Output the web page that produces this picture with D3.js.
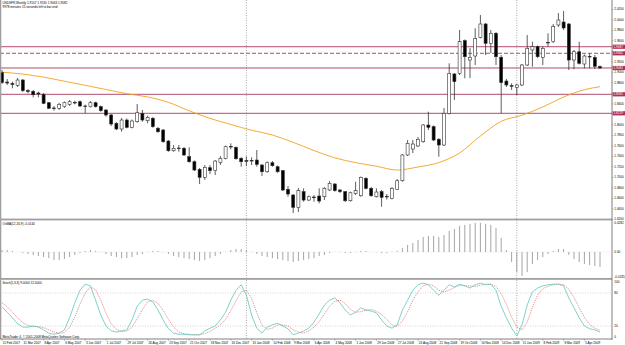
<!DOCTYPE html>
<html>
<head>
<meta charset="utf-8">
<script src="https://cdn.jsdelivr.net/npm/d3@7"></script>
<style>
body{margin:0;background:#fff}
svg{display:block}
text{font-family:"Liberation Sans",Arial,sans-serif}
</style>
</head>
<body>
<svg id="chart" width="625" height="345"></svg>
<script>
// weekly candles, first bar = 11 Feb 2007
var opens = [1.8993,1.8815,1.8786,1.8752,1.8853,1.8653,1.8638,1.8606,1.8581,1.8421,
1.8320,1.8314,1.8345,1.8390,1.8428,1.8440,1.8358,1.8345,1.8421,1.8345,
1.8282,1.8187,1.8028,1.7920,1.8091,1.7952,1.8059,1.8219,1.8078,1.8124,
1.7933,1.7901,1.7691,1.7506,1.7558,1.7552,1.7393,1.7297,1.7152,1.7000,
1.7183,1.7126,1.7285,1.7361,1.7590,1.7571,1.7361,1.7320,1.7324,1.7329,
1.7234,1.7106,1.7278,1.7202,1.7126,1.6771,1.6663,1.6428,1.6726,1.6567,
1.6625,1.6644,1.6630,1.6758,1.6872,1.6758,1.6726,1.6554,1.6695,1.6649,
1.6981,1.6790,1.6630,1.6726,1.6638,1.6600,1.6771,1.6935,1.7425,1.7539,
1.7596,1.7678,1.7996,1.7964,1.7724,1.7615,1.8219,1.8968,1.8981,1.9602,
1.9234,1.9310,1.9666,1.9920,1.9552,1.9743,1.9286,1.8834,1.8745,1.8714,
1.8758,1.9139,1.9425,1.9488,1.9286,1.9571,1.9583,1.9901,1.9958,1.9920,
1.9234,1.9392,1.9158,1.9305,1.9282,1.9107];
var highs = [1.9044,1.8872,1.8821,1.8891,1.8872,1.8676,1.8663,1.8630,1.8606,1.8434,
1.8358,1.8421,1.8443,1.8472,1.8459,1.8463,1.8386,1.8453,1.8440,1.8367,
1.8295,1.8206,1.8053,1.8129,1.8120,1.8101,1.8396,1.8282,1.8173,1.8148,
1.7958,1.7920,1.7710,1.7615,1.7615,1.7577,1.7571,1.7320,1.7177,1.7234,
1.7234,1.7329,1.7405,1.7602,1.7647,1.7586,1.7386,1.7396,1.7381,1.7520,
1.7253,1.7301,1.7310,1.7225,1.7139,1.6834,1.6682,1.6796,1.6790,1.6653,
1.6663,1.6790,1.6815,1.6929,1.6891,1.6777,1.6739,1.6729,1.6916,1.7015,
1.7000,1.6815,1.6790,1.6758,1.6682,1.6815,1.6967,1.7444,1.7710,1.7710,
1.7767,1.8015,1.8249,1.7987,1.7748,1.8320,1.9171,1.8987,1.9806,1.9625,
1.9463,1.9838,2.0091,1.9939,1.9806,1.9767,1.9329,1.8872,1.8790,1.8777,
1.9158,1.9710,1.9583,1.9510,1.9491,1.9743,1.9920,2.0129,2.0167,1.9939,
1.9425,1.9583,1.9339,1.9362,1.9329,1.9130];
var lows = [1.8777,1.8758,1.8695,1.8720,1.8625,1.8600,1.8524,1.8524,1.8396,1.8301,
1.8269,1.8282,1.8320,1.8358,1.8390,1.8339,1.8219,1.8329,1.8329,1.8250,
1.8154,1.7977,1.7901,1.7868,1.7933,1.7933,1.8040,1.8059,1.8028,1.7945,
1.7849,1.7659,1.7487,1.7487,1.7487,1.7406,1.7278,1.7120,1.6872,1.6948,
1.7063,1.7044,1.7234,1.7342,1.7533,1.7335,1.7202,1.7215,1.7234,1.7202,
1.7025,1.7087,1.7202,1.7087,1.6739,1.6630,1.6320,1.6339,1.6535,1.6548,
1.6535,1.6505,1.6567,1.6739,1.6726,1.6701,1.6529,1.6535,1.6663,1.6630,
1.6771,1.6630,1.6615,1.6440,1.6577,1.6581,1.6758,1.6916,1.7406,1.7463,
1.7577,1.7659,1.7901,1.7691,1.7393,1.7596,1.8200,1.8472,1.8948,1.8886,
1.8891,1.9139,1.9647,1.9329,1.9367,1.9139,1.8219,1.8720,1.8663,1.8567,
1.8739,1.9120,1.9107,1.9272,1.9139,1.9488,1.9558,1.9863,1.9806,1.9044,
1.9057,1.9148,1.9076,1.9076,1.9063,1.9063];
var closes = [1.8802,1.8796,1.8767,1.8853,1.8650,1.8634,1.8573,1.8587,1.8409,1.8314,
1.8307,1.8390,1.8421,1.8440,1.8415,1.8358,1.8349,1.8421,1.8345,1.8269,
1.8187,1.8015,1.7920,1.8091,1.7952,1.8072,1.8230,1.8091,1.8143,1.7964,
1.7868,1.7678,1.7506,1.7552,1.7545,1.7425,1.7297,1.7139,1.7000,1.7190,
1.7126,1.7310,1.7361,1.7583,1.7577,1.7354,1.7297,1.7305,1.7310,1.7247,
1.7106,1.7278,1.7221,1.7106,1.6758,1.6682,1.6428,1.6745,1.6567,1.6630,
1.6611,1.6548,1.6790,1.6886,1.6745,1.6726,1.6554,1.6706,1.6745,1.7000,
1.6790,1.6649,1.6720,1.6619,1.6625,1.6790,1.6935,1.7425,1.7647,1.7634,
1.7724,1.7996,1.7952,1.7710,1.7615,1.8219,1.8981,1.8821,1.9583,1.9297,
1.9286,1.9647,1.9920,1.9552,1.9743,1.9297,1.8802,1.8758,1.8733,1.8758,
1.9139,1.9457,1.9488,1.9297,1.9457,1.9558,1.9869,1.9996,1.9844,1.9234,
1.9392,1.9171,1.9310,1.9291,1.9114,1.9082];

// moving average, read every 4th bar
var maBars = [0,4,8,12,16,20,24,28,32,36,40,44,48,52,56,60,64,68,72,76,80,84,88,92,96,100,104,108,112,115];
var maVals = [1.9002,1.8966,1.8908,1.8830,1.8752,1.8672,1.8592,1.8531,1.8428,1.8266,
1.8122,1.8007,1.7897,1.7806,1.7666,1.7510,1.7371,1.7280,1.7211,1.7139,
1.7196,1.7280,1.7463,1.7786,1.8066,1.8183,1.8339,1.8529,1.8668,1.8726];

// horizontal lines drawn on the chart
var hLevels = [1.9487,1.9362,1.9082,1.8581,1.8219];
var hDashed = [false,true,false,false,false];

var osma = [0.0019,0.0019,0.0010,0,-0.0010,-0.0019,-0.0029,-0.0038,-0.0048,-0.0058,-0.0077,-0.0077,-0.0067,-0.0048,-0.0029,-0.0010,
0.0010,0.0019,0.0010,0.0002,-0.0019,-0.0038,-0.0048,-0.0058,-0.0058,-0.0048,-0.0029,-0.0019,0.0002,0.0010,0.0010,-0.0002,
-0.0019,-0.0038,-0.0048,-0.0058,-0.0067,-0.0077,-0.0086,-0.0077,-0.0058,-0.0038,-0.0019,0.0002,0.0019,0.0029,0.0029,0.0019,
-0.0002,-0.0019,-0.0038,-0.0048,-0.0058,-0.0067,-0.0077,-0.0086,-0.0096,-0.0086,-0.0077,-0.0067,-0.0058,-0.0038,-0.0029,-0.0010,
0.0002,-0.0002,-0.0010,-0.0010,0.0002,0.0010,0.0010,0.0002,-0.0002,-0.0010,-0.0010,0.0002,0.0010,0.0038,0.0067,0.0086,
0.0115,0.0144,0.0154,0.0154,0.0144,0.0163,0.0202,0.0221,0.0250,0.0259,0.0269,0.0278,0.0278,0.0269,0.0259,0.0230,
0.0134,0.0019,-0.0096,-0.0192,-0.0230,-0.0192,-0.0115,-0.0077,-0.0048,-0.0019,0.0010,0.0029,0.0029,-0.0029,-0.0067,-0.0096,
-0.0115,-0.0125,-0.0134,-0.0144];

var stochK = [55,45,35,24,18,18,20,18,13,7,5,7,13,35,62,85,96,93,67,40,
20,11,9,11,13,31,56,67,69,64,49,31,15,7,5,5,4,4,4,11,
16,20,31,45,67,85,95,76,40,16,7,18,22,25,20,15,4,7,11,16,
27,42,58,67,71,62,49,40,45,53,49,47,44,31,20,16,22,49,67,85,
95,98,95,85,76,85,95,91,96,93,89,95,98,95,96,85,56,35,16,2,
22,58,82,89,93,95,96,96,93,71,53,35,20,15,13,9];
var stochD = [62,55,45,35,26,21,19,19,17,13,9,7,8,18,36,60,80,91,86,67,
43,24,14,10,11,18,33,50,64,67,61,48,32,18,9,6,5,4,4,6,
10,16,22,32,48,66,82,85,70,44,21,14,16,22,22,20,13,9,7,11,
18,28,42,56,65,67,61,50,45,46,49,50,47,41,32,22,19,29,46,67,
82,93,96,93,85,82,85,90,94,93,93,92,94,96,96,92,79,59,36,18,
13,27,54,76,88,92,95,96,95,87,72,53,36,23,16,12];

var priceTicks = [2.02,2.00,1.98,1.96,1.94,1.92,1.90,1.88,1.86,1.84,1.82,1.80,1.78,1.76,1.74,1.72,1.70,1.68,1.66,1.64,1.62];
var dateLabels = ["11 Feb 2007","11 Mar 2007","8 Apr 2007","6 May 2007","3 Jun 2007","1 Jul 2007","29 Jul 2007","26 Aug 2007",
"23 Sep 2007","21 Oct 2007","18 Nov 2007","16 Dec 2007","13 Jan 2008","10 Feb 2008","9 Mar 2008","6 Apr 2008","4 May 2008",
"1 Jun 2008","29 Jun 2008","27 Jul 2008","24 Aug 2008","21 Sep 2008","19 Oct 2008","16 Nov 2008","14 Dec 2008","11 Jan 2009",
"8 Feb 2009","8 Mar 2009","5 Apr 2009"];
var separatorBars = [47, 99];

var svg = d3.select("#chart");
var fs = 3.1;

var x = d3.scaleLinear().domain([0, 115]).range([2, 600]);
var yP = d3.scaleLinear().domain([1.6206, 2.0377]).range([219, 0]);
var yO = d3.scaleLinear().domain([-0.0235, 0.0282]).range([276.6, 222.5]);
var yS = d3.scaleLinear().domain([0, 100]).range([337, 282]);

var defs = svg.append("defs");
defs.append("clipPath").attr("id","cMain").append("rect").attr("x",0).attr("y",0).attr("width",612).attr("height",218.5);
defs.append("clipPath").attr("id","cSt").append("rect").attr("x",0).attr("y",280).attr("width",612).attr("height",59);

var bars = opens.map(function(o,i){ return {i:i, o:o, h:highs[i], l:lows[i], c:closes[i]}; });

// period separators
svg.selectAll("line.sep").data(separatorBars).enter().append("line")
  .attr("x1", d => x(d)).attr("x2", d => x(d)).attr("y1", 0).attr("y2", 339)
  .attr("stroke", "#808080").attr("stroke-width", 0.7).attr("stroke-dasharray", "1,1.5");

var main = svg.append("g").attr("clip-path","url(#cMain)");

// horizontal lines
main.selectAll("line.hl").data(hLevels).enter().append("line")
  .attr("x1", 0).attr("x2", 612)
  .attr("y1", d => yP(d)).attr("y2", d => yP(d))
  .attr("stroke", "#a8385a").attr("stroke-width", 0.9)
  .attr("stroke-dasharray", (d,i) => hDashed[i] ? "4,2" : null);

// moving average
main.append("path")
  .datum(maBars.map((b,i) => [b, maVals[i]]))
  .attr("fill","none").attr("stroke","#f0a21e").attr("stroke-width",0.9)
  .attr("d", d3.line().x(d => x(d[0])).y(d => yP(d[1])).curve(d3.curveMonotoneX));

// candles
main.selectAll("line.wick").data(bars).enter().append("line")
  .attr("x1", d => x(d.i)).attr("x2", d => x(d.i))
  .attr("y1", d => yP(d.h)).attr("y2", d => yP(d.l))
  .attr("stroke", "#333").attr("stroke-width", 0.8);

main.selectAll("rect.body").data(bars).enter().append("rect")
  .attr("x", d => x(d.i) - 1.5).attr("width", 3)
  .attr("y", d => yP(Math.max(d.o, d.c)))
  .attr("height", d => Math.max(0.5, Math.abs(yP(d.o) - yP(d.c))))
  .attr("fill", d => d.c < d.o ? "#000" : "#fff")
  .attr("stroke", "#333").attr("stroke-width", 0.6);

// OsMA
svg.append("line").attr("x1",0).attr("x2",612).attr("y1",yO(0)).attr("y2",yO(0))
  .attr("stroke","#e8e8e8").attr("stroke-width",0.5);
svg.selectAll("line.os").data(osma).enter().append("line")
  .attr("x1", (d,i) => x(i)).attr("x2", (d,i) => x(i))
  .attr("y1", yO(0)).attr("y2", d => yO(d))
  .attr("stroke", "#9a9a9a").attr("stroke-width", 0.9);

// Stochastic
var st = svg.append("g").attr("clip-path","url(#cSt)");
[80, 20].forEach(function(lv){
  st.append("line").attr("x1",0).attr("x2",612).attr("y1",yS(lv)).attr("y2",yS(lv))
    .attr("stroke","#b8b8b8").attr("stroke-width",0.6).attr("stroke-dasharray","1,1.5");
});
var sLine = d3.line().x((d,i) => x(i)).y(d => yS(d));
st.append("path").datum(stochD).attr("fill","none").attr("stroke","#e07272")
  .attr("stroke-width",0.8).attr("stroke-dasharray","1.2,1").attr("d", sLine);
st.append("path").datum(stochK).attr("fill","none").attr("stroke","#5cc6be")
  .attr("stroke-width",0.8).attr("d", sLine);

// frames
svg.append("rect").attr("x",0).attr("y",0).attr("width",1.3).attr("height",339).attr("fill","#a0a0a0");
svg.append("rect").attr("x",0).attr("y",218.6).attr("width",612).attr("height",1.8).attr("fill","#a0a0a0");
svg.append("rect").attr("x",0).attr("y",278).attr("width",612).attr("height",1.8).attr("fill","#a0a0a0");
svg.append("line").attr("x1",0).attr("x2",612.5).attr("y1",339).attr("y2",339).attr("stroke","#606060").attr("stroke-width",0.8);
svg.append("line").attr("x1",612).attr("x2",612).attr("y1",0).attr("y2",339.4).attr("stroke","#606060").attr("stroke-width",0.8);

// price axis labels (the ones under a level box are hidden by it)
var visTicks = priceTicks.filter(t => hLevels.every(h => Math.abs(yP(t) - yP(h)) > 4.2));
var ax = svg.append("g").attr("font-size", fs);
ax.selectAll("text.p").data(visTicks).enter().append("text")
  .attr("x", 614.3).attr("y", d => yP(d) + 1.1).text(d => d.toFixed(4));
ax.selectAll("line.pt").data(priceTicks).enter().append("line")
  .attr("x1",612).attr("x2",613.5).attr("y1", d => yP(d)).attr("y2", d => yP(d))
  .attr("stroke","#606060").attr("stroke-width",0.4);

// level labels in boxes
var lb = svg.append("g").attr("font-size", fs);
lb.selectAll("rect").data(hLevels).enter().append("rect")
  .attr("x", 612.6).attr("width", 12.4).attr("y", d => yP(d) - 2.1).attr("height", 4.2)
  .attr("fill", "#b03058");
lb.selectAll("text").data(hLevels).enter().append("text")
  .attr("x", 613.4).attr("y", d => yP(d) + 1.1).attr("fill", "#fff").text(d => d.toFixed(4));

// indicator axis labels
var oTicks = [0.0282, 0, -0.0235];
ax.selectAll("text.o").data(oTicks).enter().append("text")
  .attr("x", 614.3).attr("y", d => yO(d) + 1.1).text(d => d === 0 ? "0.00" : d.toFixed(4));
var sTicks = [100, 80, 20, 0];
ax.selectAll("text.s").data(sTicks).enter().append("text")
  .attr("x", 614.3).attr("y", d => yS(d) + 1.1).text(d => d);

// date axis
var tb = d3.range(dateLabels.length).map(k => k * 4);
svg.selectAll("line.dt").data(tb).enter().append("line")
  .attr("x1", d => x(d)).attr("x2", d => x(d)).attr("y1", 339).attr("y2", 340.8)
  .attr("stroke","#606060").attr("stroke-width",0.4);
svg.append("g").attr("font-size", fs).selectAll("text").data(tb).enter().append("text")
  .attr("x", d => x(d) + 0.8).attr("y", 343.8).text((d,k) => dateLabels[k]);

// titles
var last = bars[bars.length - 1];
var tt = svg.append("g").attr("font-size", fs);
tt.append("text").attr("x", 2.5).attr("y", 4)
  .text("USDSFR,Weekly  " + [last.o, last.h, last.l, last.c].map(v => v.toFixed(4)).join(" "));
tt.append("text").attr("x", 2.5).attr("y", 7.6).text("9978 minutes 15 seconds left to bar end");
tt.append("text").attr("x", 2.5).attr("y", 224.6)
  .text("OsMA(12,26,9) " + osma[osma.length - 1].toFixed(4));
tt.append("text").attr("x", 2.5).attr("y", 284.4)
  .text("Stoch(5,3,3) " + stochK[stochK.length - 1].toFixed(4) + " " + stochD[stochD.length - 1].toFixed(4));
tt.append("text").attr("x", 2.5).attr("y", 337.6).text("MetaTrader 4, \u00a9 2001-2008 MetaQuotes Software Corp.");
</script>
</body>
</html>
